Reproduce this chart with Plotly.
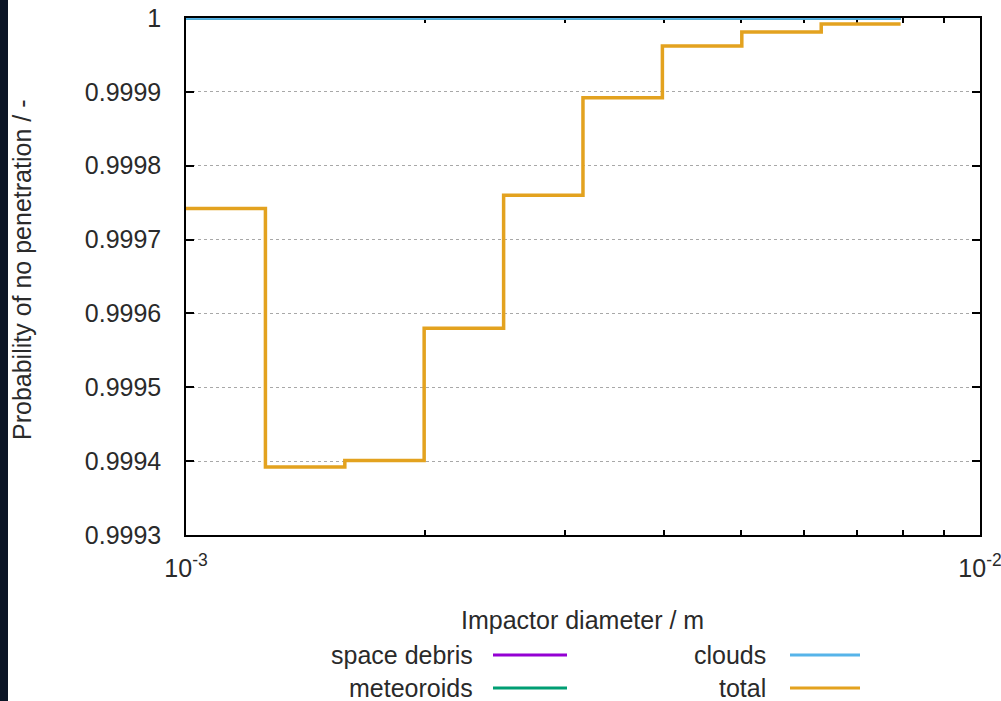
import plotly.graph_objects as go

# Impactor diameter bin edges (m), 10 bins per decade
diameter = [1.0e-3, 1.259e-3, 1.585e-3, 1.995e-3, 2.512e-3,
            3.162e-3, 3.981e-3, 5.012e-3, 6.310e-3, 7.943e-3]

# Probability of no penetration per population
space_debris = [1.0, 1.0, 1.0, 1.0, 1.0, 1.0, 1.0, 1.0, 1.0, 1.0]
meteoroids = [1.0, 1.0, 1.0, 1.0, 1.0, 1.0, 1.0, 1.0, 1.0, 1.0]
clouds = [1.0, 1.0, 1.0, 1.0, 1.0, 1.0, 1.0, 1.0, 1.0, 1.0]
total = [0.999742, 0.999392, 0.999401, 0.999580, 0.999760,
         0.999892, 0.999962, 0.999981, 0.999992, 0.999992]

y_ticks = [0.9993, 0.9994, 0.9995, 0.9996, 0.9997, 0.9998, 0.9999, 1.0]
y_tick_text = ["0.9993", "0.9994", "0.9995", "0.9996", "0.9997", "0.9998", "0.9999", "1"]
x_ticks = [1e-3, 2e-3, 3e-3, 4e-3, 5e-3, 6e-3, 7e-3, 8e-3, 9e-3, 1e-2]
x_tick_text = ["10<sup>-3</sup>", "", "", "", "", "", "", "", "", "10<sup>-2</sup>"]

series = [
    ("space debris", space_debris, "#9400d3"),
    ("meteoroids", meteoroids, "#009e73"),
    ("clouds", clouds, "#56b4e9"),
    ("total", total, "#e3a21f"),
]

FONT = "Liberation Sans, Arial, sans-serif"
TEXT = "#2a2a2a"

# plot area in pixels
W, H = 1001, 701
L, R, T, B = 186, 980, 18, 535


def px_x(p):
    return (p - L) / (R - L)


def px_y(p):
    return (B - p) / (B - T)


fig = go.Figure()
for name, vals, color in series:
    fig.add_trace(go.Scatter(
        x=diameter, y=vals, name=name, mode="lines",
        line=dict(color=color, width=3.5, shape="hv"),
        showlegend=False,
    ))

shapes = []
annotations = []

# legend drawn gnuplot-style: label right-aligned, line sample to its right
legend_slots = [
    ("space debris", "#9400d3", 475, 493, 567, 655),
    ("meteoroids", "#009e73", 475, 493, 567, 688),
    ("clouds", "#56b4e9", 768, 790, 860, 655),
    ("total", "#e3a21f", 768, 790, 860, 688),
]
for label, color, tx, lx0, lx1, ly in legend_slots:
    annotations.append(dict(
        text=label, xref="paper", yref="paper", x=px_x(tx), y=px_y(ly),
        xanchor="right", yanchor="middle", showarrow=False,
        font=dict(family=FONT, size=25, color=TEXT),
    ))
    shapes.append(dict(
        type="line", xref="paper", yref="paper",
        x0=px_x(lx0), x1=px_x(lx1), y0=px_y(ly), y1=px_y(ly),
        line=dict(color=color, width=3),
    ))

# axis titles
annotations.append(dict(
    text="Impactor diameter / m", xref="paper", yref="paper",
    x=px_x(582), y=px_y(620), xanchor="center", yanchor="middle",
    showarrow=False, font=dict(family=FONT, size=25, color=TEXT),
))
annotations.append(dict(
    text="Probability of no penetration / -", xref="paper", yref="paper",
    x=px_x(22), y=px_y(270), xanchor="center", yanchor="middle",
    textangle=-90, showarrow=False, font=dict(family=FONT, size=25, color=TEXT),
))

# dark strip on the left edge
shapes.append(dict(
    type="rect", xref="paper", yref="paper",
    x0=px_x(0), x1=px_x(8), y0=px_y(H), y1=px_y(0),
    fillcolor="#0b1526", line=dict(width=0), layer="above",
))

fig.update_layout(
    width=W, height=H,
    margin=dict(l=L, r=W - R, t=T, b=H - B, pad=0, autoexpand=False),
    paper_bgcolor="white", plot_bgcolor="white",
    font=dict(family=FONT, size=25, color=TEXT),
    shapes=shapes, annotations=annotations,
    showlegend=False,
)
fig.update_xaxes(
    type="log", range=[-3, -2], automargin=False,
    tickmode="array", tickvals=x_ticks, ticktext=x_tick_text,
    ticks="inside", ticklen=5, tickwidth=1.5, tickcolor="black",
    showline=True, linecolor="black", linewidth=1.5, mirror="ticks",
    showgrid=False, zeroline=False, ticklabelstandoff=10,
    ticklabeloverflow="allow",
    tickfont=dict(family=FONT, size=25, color=TEXT),
    layer="below traces",
)
fig.update_yaxes(
    range=[0.9993, 1.0], automargin=False,
    tickmode="array", tickvals=y_ticks, ticktext=y_tick_text,
    ticks="inside", ticklen=8, tickwidth=1.5, tickcolor="black",
    showline=True, linecolor="black", linewidth=1.5, mirror="ticks",
    showgrid=True, gridcolor="#a8a8a8", gridwidth=1, griddash="3px,3px",
    zeroline=False, ticklabelstandoff=18, ticklabeloverflow="allow",
    tickfont=dict(family=FONT, size=25, color=TEXT),
)

fig.write_html("out.html")
